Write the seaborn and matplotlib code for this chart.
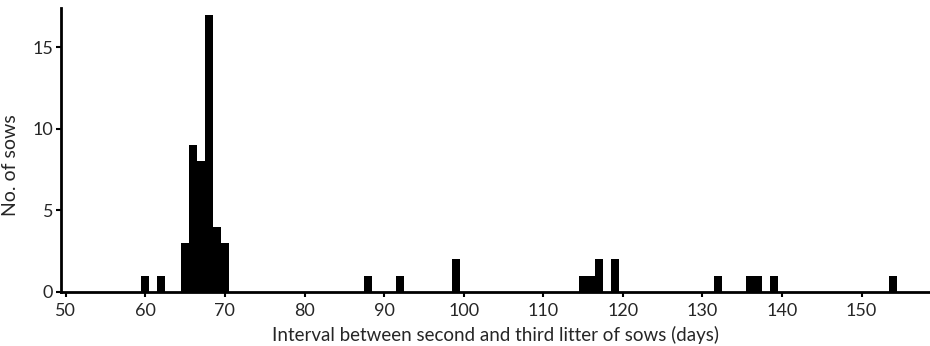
import numpy as np
import pandas as pd
import matplotlib
matplotlib.use("Agg")
import matplotlib.pyplot as plt
import seaborn as sns

# Data
days = [60, 62, 65, 66, 67, 68, 69, 70, 88, 92, 99, 115, 116, 117, 119, 132, 136, 137, 139, 154]
counts = [1, 1, 3, 9, 8, 17, 4, 3, 1, 1, 2, 1, 1, 2, 2, 1, 1, 1, 1, 1]
x_ticks = [50, 60, 70, 80, 90, 100, 110, 120, 130, 140, 150]
y_ticks = [0, 5, 10, 15]

sns.set_theme(style="ticks")
plt.rcParams['font.family'] = ['Lato', 'DejaVu Sans']

df = pd.DataFrame({"days": days, "count": counts})

fig = plt.figure(figsize=(9.3, 3.46), dpi=100)
ax = fig.add_axes([61/930, 1 - 292/346, (930 - 61)/930, (292 - 8)/346])

sns.histplot(data=df, x="days", weights="count", discrete=True, ax=ax,
             color="black", alpha=1, edgecolor="none", linewidth=0)

ax.set_xlim(49.4, 158.6)
ax.set_ylim(0, 17.4)
ax.set_xticks(x_ticks)
ax.set_yticks(y_ticks)
ax.set_xlabel("Interval between second and third litter of sows (days)", fontsize=13.5, labelpad=5)
ax.set_ylabel("No. of sows", fontsize=14)
ax.yaxis.set_label_coords(-0.048, 0.447)
ax.tick_params(axis="y", labelsize=13, length=3.6, width=1.5, color="black", pad=2)
ax.tick_params(axis="x", labelsize=13, length=3.6, width=1.5, color="black", pad=4)
for s in ["top", "right"]:
    ax.spines[s].set_visible(False)
for s in ["left", "bottom"]:
    ax.spines[s].set_linewidth(2.0)
    ax.spines[s].set_color("black")

fig.savefig("out.png", dpi=100)
